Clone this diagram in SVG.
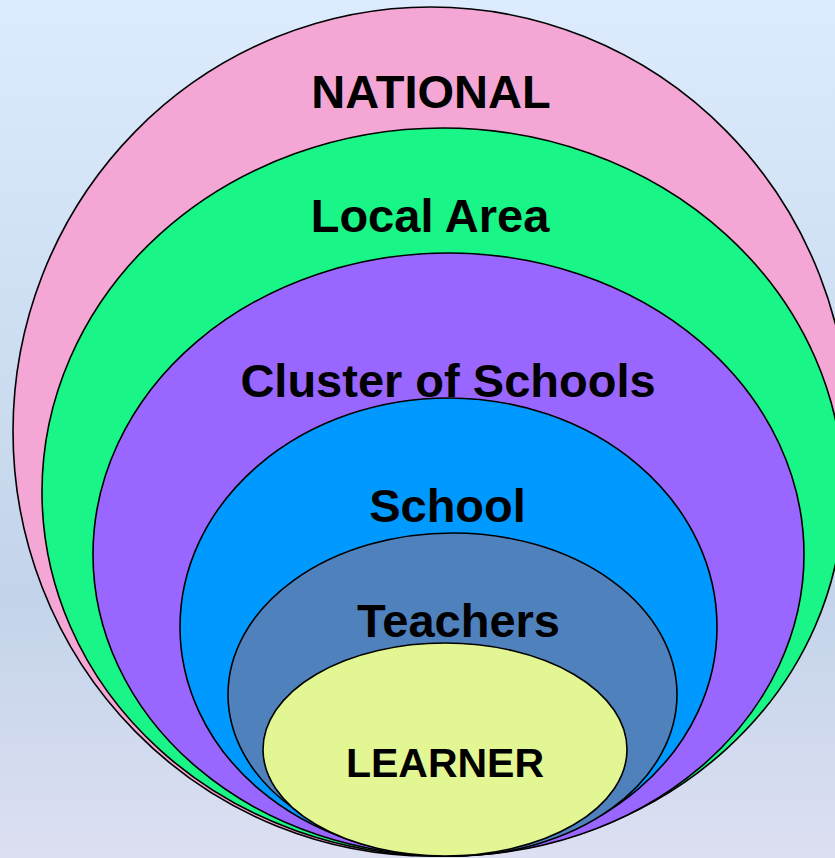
<svg xmlns="http://www.w3.org/2000/svg" width="835" height="858" viewBox="0 0 835 858">
<defs>
<linearGradient id="bg" x1="0" y1="0" x2="0" y2="1">
<stop offset="0" stop-color="#dcebfd"/>
<stop offset="0.7" stop-color="#c3d4ea"/>
<stop offset="1" stop-color="#dddff2"/>
</linearGradient>
<style>
.ring{stroke:#000;stroke-width:1.6}
.lbl{font-family:"Liberation Sans",Arial,sans-serif;font-weight:bold;font-size:47px;fill:#000;text-anchor:middle}
</style>
</defs>
<rect x="0" y="0" width="835" height="858" fill="url(#bg)"/>
<g id="national">
<ellipse class="ring" cx="431" cy="431.5" rx="418" ry="424.5" fill="#f4a7d4"/>
<text class="lbl" x="431" y="108">NATIONAL</text>
</g>
<g id="local-area">
<ellipse class="ring" cx="442.7" cy="492" rx="400.7" ry="364" fill="#19f586"/>
<text class="lbl" x="430" y="232">Local Area</text>
</g>
<g id="cluster">
<ellipse class="ring" cx="448.5" cy="554.5" rx="355.5" ry="301.5" fill="#9966ff"/>
<text class="lbl" x="448" y="397">Cluster of Schools</text>
</g>
<g id="school">
<ellipse class="ring" cx="448.5" cy="627" rx="268.5" ry="229" fill="#0099ff"/>
<text class="lbl" x="447.5" y="522">School</text>
</g>
<g id="teachers">
<ellipse class="ring" cx="452.5" cy="694.5" rx="224.5" ry="161.5" fill="#4f81bd"/>
<text class="lbl" x="458.5" y="637">Teachers</text>
</g>
<g id="learner">
<ellipse class="ring" cx="445" cy="749.5" rx="182" ry="106.5" fill="#e2f693"/>
<text class="lbl" x="445" y="777" style="font-size:41px">LEARNER</text>
</g>
<g id="connectors"/>
</svg>
